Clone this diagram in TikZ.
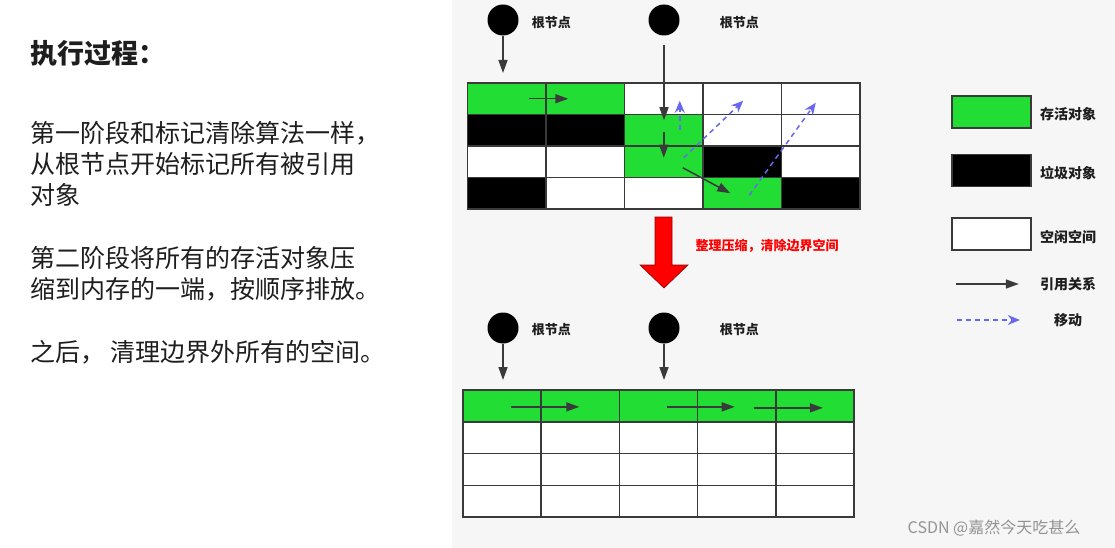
\documentclass[tikz,border=0pt]{standalone}
\usepackage{fontspec}
\setmainfont{Noto Sans CJK SC}
\usetikzlibrary{arrows.meta,positioning}

\definecolor{live}{RGB}{34,221,51}
\colorlet{garbage}{black}
\colorlet{free}{white}
\definecolor{gridline}{RGB}{58,58,58}
\definecolor{movecol}{RGB}{104,104,238}
\definecolor{panel}{RGB}{246,246,246}
\definecolor{textdark}{RGB}{30,30,30}

\begin{document}
\begin{tikzpicture}[x=1pt, y=-1pt,
    cell/.style={draw=gridline, line width=1.5pt, minimum width=78.5pt, minimum height=31.5pt, inner sep=0pt},
    bcell/.style={cell, minimum width=78.2pt, minimum height=31.75pt},
    root/.style={circle, fill=black, minimum size=31pt, inner sep=0pt},
    rootlabel/.style={inner sep=0pt, font=\fontsize{13}{15}\selectfont\bfseries, text=textdark},
    ref/.style={-{Triangle[length=13pt, width=9pt]}, line width=1.5pt, draw=gridline},
    move/.style={-{Stealth[length=12pt, width=10pt]}, line width=1.5pt, draw=movecol, dash pattern=on 5pt off 4pt},
    legendbox/.style={draw=gridline, line width=1.5pt, minimum width=79pt, minimum height=32pt, inner sep=0pt},
    legendlabel/.style={inner sep=0pt, font=\fontsize{14}{16}\selectfont\bfseries, text=textdark},
    para/.style={anchor=north west, align=left, inner sep=0pt, text=textdark, font=\fontsize{25}{31}\selectfont}
]
\useasboundingbox (0,0) rectangle (1115,548);
\fill[white] (0,0) rectangle (452,548);
\fill[panel] (452,0) rectangle (1115,548);

% left: explanation
\node[anchor=west, inner sep=0pt, text=textdark, font=\fontsize{27}{30}\selectfont\bfseries] (title) at (30,53) {执行过程：};
\node[para] (step1) at (30,121) {第一阶段和标记清除算法一样，\\从根节点开始标记所有被引用\\对象};
\node[para] (step2) at (30,246) {第二阶段将所有的存活对象压\\缩到内存的一端，按顺序排放。};
\node[para] (step3) at (30,340) {之后， 清理边界外所有的空间。};

% heap before compaction
\foreach \r/\colors in {0/{live,live,free,free,free},1/{garbage,garbage,live,free,free},2/{free,free,live,garbage,free},3/{garbage,free,free,live,garbage}}
  \foreach \fillc [count=\c from 0] in \colors
    \node[cell, fill=\fillc] (t-\r-\c) at ({467.5+78.5*\c+39.25},{83+31.5*\r+15.75}) {};

\node[root] (r1) at (503,20) {};
\node[rootlabel, right=13pt of r1, yshift=-3pt] (r1label) {根节点};
\node[root] (r2) at (664,20) {};
\node[rootlabel, right=40pt of r2, yshift=-3pt] (r2label) {根节点};
\coordinate (r1end) at (503,73);

\draw[ref] (r1) -- (r1end);
\draw[ref] ([yshift=-9pt]r2.south) -- ([xshift=0.25pt, yshift=10pt]t-1-2.center);
\draw[ref] ([xshift=22pt]t-0-0.center) -- ([xshift=-17pt]t-0-1.center);
\draw[ref] ([yshift=-2pt]t-1-2.center) -- ([yshift=4pt]t-2-2.center);
\draw[ref] ([xshift=19pt, yshift=-6pt]t-2-2.center) -- ([xshift=-12pt]t-3-3.center);

\draw[move] ([xshift=16pt]t-1-2.center) -- ([xshift=16pt, yshift=-2pt]t-0-2.center);
\draw[move] ([xshift=20pt, yshift=4pt]t-2-2.center) -- ([xshift=1pt, yshift=-2pt]t-0-3.center);
\draw[move] ([xshift=7pt, yshift=-2pt]t-3-3.center) -- ([xshift=-5pt, yshift=-4pt]t-0-4.center);

% compaction step
\draw[fill=red, draw=red!55!black, line width=0.6pt] (655,217) -- (672,217) -- (672,265) -- (688,265) -- (664,288) -- (640,265) -- (655,265) -- cycle;
\node[inner sep=0pt, text=red, font=\fontsize{13}{15}\selectfont\bfseries] (cmplabel) at (767,246) {整理压缩，清除边界空间};

% heap after compaction
\foreach \c in {0,...,4} {
  \node[bcell, fill=live] (b-0-\c) at ({463+78.2*\c+39.1},{390+15.875}) {};
  \foreach \r in {1,2,3}
    \node[bcell, fill=free] (b-\r-\c) at ({463+78.2*\c+39.1},{390+31.75*\r+15.875}) {};
}

\node[root] (r3) at (503,328) {};
\node[rootlabel, right=13pt of r3, yshift=-2pt] (r3label) {根节点};
\node[root] (r4) at (664,328) {};
\node[rootlabel, right=40pt of r4, yshift=-2pt] (r4label) {根节点};
\coordinate (r3end) at (503,380);
\coordinate (r4end) at (664,380);

\draw[ref] (r3) -- (r3end);
\draw[ref] (r4) -- (r4end);
\draw[ref] ([xshift=9pt, yshift=-1pt]b-0-0.center) -- ([xshift=-1pt, yshift=-1pt]b-0-1.center);
\draw[ref] ([xshift=8.5pt, yshift=-1pt]b-0-2.center) -- ([xshift=-2pt, yshift=-1pt]b-0-3.center);
\draw[ref] ([xshift=17pt, yshift=-2pt]b-0-3.center) -- ([xshift=8pt, yshift=-2pt]b-0-4.center);

% legend
\node[legendbox, fill=live] (lg-live) at (991.5,112) {};
\node[legendlabel] (lg-live-text) at (1068,114) {存活对象};
\node[legendbox, fill=garbage] (lg-garbage) at (991.5,170.5) {};
\node[legendlabel] (lg-garbage-text) at (1068,173) {垃圾对象};
\node[legendbox, fill=free] (lg-free) at (991.5,234) {};
\node[legendlabel] (lg-free-text) at (1068,237) {空闲空间};
\node[legendlabel] (lg-ref-text) at (1068,284) {引用关系};
\node[legendlabel] (lg-move-text) at (1068,320) {移动};
\draw[ref] ([xshift=-84pt]lg-ref-text.west) -- ([xshift=-21pt]lg-ref-text.west);
\draw[move] ([xshift=-97pt]lg-move-text.west) -- ([xshift=-34pt]lg-move-text.west);

\node[inner sep=0pt, text=gray!85, font=\fontsize{16}{18}\selectfont] (mark) at (994,528) {CSDN @嘉然今天吃甚么};
\end{tikzpicture}
\end{document}
